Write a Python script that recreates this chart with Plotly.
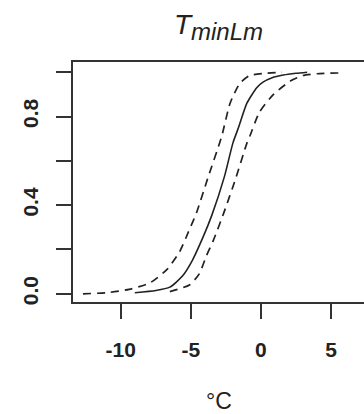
import plotly.graph_objects as go

# Data
solid_x = [-9.0, -7.5, -6.5, -5.6, -4.9, -4.1, -3.5, -2.6, -2.0, -1.6, -1.0, -0.3, 0.15, 0.8, 1.6, 2.5, 3.3]
solid_y = [0.005, 0.015, 0.03, 0.08, 0.15, 0.26, 0.355, 0.53, 0.68, 0.75, 0.86, 0.93, 0.955, 0.975, 0.987, 0.995, 1.0]

upper_x = [-12.7, -11.0, -9.4, -7.9, -6.7, -5.8, -5.1, -4.6, -3.8, -2.8, -2.2, -1.5, -0.8, 0.4, 1.5]
upper_y = [0.0, 0.005, 0.02, 0.05, 0.11, 0.19, 0.29, 0.365, 0.52, 0.71, 0.86, 0.95, 0.985, 0.995, 1.0]

lower_x = [-6.5, -5.1, -4.4, -3.9, -3.4, -2.65, -1.8, -1.0, -0.8, -0.1, 0.9, 2.1, 3.0, 4.0, 5.9]
lower_y = [0.01, 0.04, 0.09, 0.17, 0.24, 0.365, 0.52, 0.68, 0.71, 0.82, 0.90, 0.96, 0.985, 0.993, 0.997]

x_ticks = [-10, -5, 0, 5]
x_tick_labels = ["-10", "-5", "0", "5"]
y_ticks = [0.0, 0.4, 0.8]
y_tick_labels = ["0.0", "0.4", "0.8"]
y_minor_step = 0.2

title_main = "T"
title_sub = "minLm"
x_label = "°C"

FONT = "Liberation Sans, Arial, sans-serif"
INK = "#222222"

fig = go.Figure()
fig.add_trace(go.Scatter(x=upper_x, y=upper_y, mode="lines",
                         line=dict(color=INK, width=1.7, dash="8px,6px", shape="spline", smoothing=0.6),
                         showlegend=False, hoverinfo="skip"))
fig.add_trace(go.Scatter(x=lower_x, y=lower_y, mode="lines",
                         line=dict(color=INK, width=1.7, dash="8px,6px", shape="spline", smoothing=0.6),
                         showlegend=False, hoverinfo="skip"))
fig.add_trace(go.Scatter(x=solid_x, y=solid_y, mode="lines",
                         line=dict(color=INK, width=1.6, shape="spline", smoothing=0.6),
                         showlegend=False, hoverinfo="skip"))

fig.update_layout(
    width=364, height=414,
    margin=dict(l=73, r=0, t=62, b=112),
    paper_bgcolor="white", plot_bgcolor="white",
    font=dict(family=FONT, color=INK),
    title=dict(
        text="<i>%s</i><sub><span style=\"font-size:24px\"><i>%s</i></span></sub>" % (title_main, title_sub),
        font=dict(family=FONT, size=28, color=INK),
        x=0.5, xref="paper", xanchor="center",
        y=1 - 24 / 414, yref="container", yanchor="middle",
    ),
    xaxis=dict(
        range=[-13.41, 7.357], showgrid=False, zeroline=False,
        showline=True, linewidth=1.6, linecolor="#333333", mirror=True,
        ticks="outside", ticklen=15, tickwidth=1.5, tickcolor="#333333",
        tickvals=x_ticks, ticktext=x_tick_labels,
        tickfont=dict(family=FONT, size=21, color=INK, weight="bold"),
        ticklabelstandoff=13,
    ),
    yaxis=dict(
        range=[-0.037, 1.046], showgrid=False, zeroline=False,
        showline=True, linewidth=1.6, linecolor="#333333", mirror=False,
        ticks="outside", ticklen=15, tickwidth=1.5, tickcolor="#333333",
        tickvals=y_ticks, ticktext=y_tick_labels, tickangle=-90,
        tickfont=dict(family=FONT, size=21, color=INK, weight="bold"),
        ticklabelstandoff=10,
        minor=dict(tick0=0, dtick=y_minor_step, ticks="outside", ticklen=15,
                   tickwidth=1.5, tickcolor="#333333", showgrid=False),
    ),
    annotations=[dict(
        text=x_label, xref="paper", yref="paper", x=0.5, y=-(401 - 302) / 240,
        xanchor="center", yanchor="middle", showarrow=False,
        font=dict(family=FONT, size=23, color=INK),
    )],
)

fig.write_html("out.html", config={"displayModeBar": False},
               post_script="document.body.style.margin='0';document.body.style.overflow='hidden';")
